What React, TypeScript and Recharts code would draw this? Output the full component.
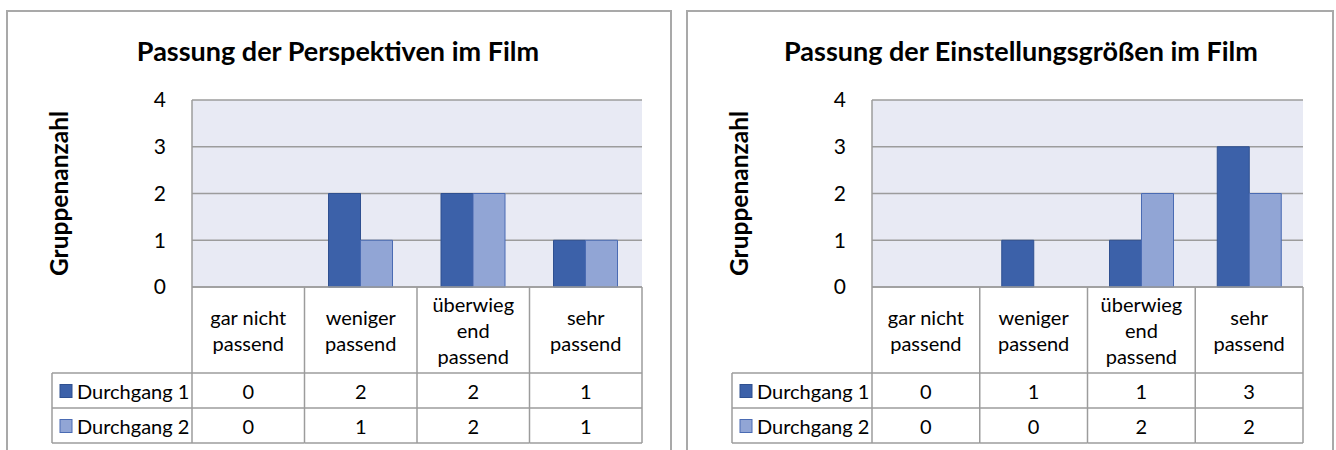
import { Bar, BarChart, CartesianGrid, Customized, XAxis, YAxis } from "recharts";

const categories = ["gar nicht passend", "weniger passend", "überwiegend passend", "sehr passend"];
const categoryLines = [["gar nicht", "passend"], ["weniger", "passend"], ["überwieg", "end", "passend"], ["sehr", "passend"]];
const seriesNames = ["Durchgang 1", "Durchgang 2"];
const perspektivenD1 = [0, 2, 2, 1];
const perspektivenD2 = [0, 1, 2, 1];
const einstellungD1 = [0, 1, 1, 3];
const einstellungD2 = [0, 0, 2, 2];
const yTicks = [0, 1, 2, 3, 4];

const FONT = "Lato, 'Open Sans', sans-serif";
const LINE = "#9c9c9c";
const DARK = "#3c61a9";
const LIGHT = "#91a5d5";

const PLOT_TOP = 88;
const PLOT_BOTTOM = 275;
const ROW1 = 361;
const ROW2 = 396;
const ROW3 = 431;
const LEGEND_LEFT = 44;
const Y_AXIS_W = 184;
const CHART_H = 440;
const TEXT_SIZE = 20;

type Props = {
  title: string;
  titleX: number;
  width: number;
  marginRight: number;
  d1: number[];
  d2: number[];
};

function FilmChart({ title, titleX, width, marginRight, d1, d2 }: Props) {
  const data = categories.map((c, i) => ({ name: c, d1: d1[i], d2: d2[i] }));
  const plotLeft = Y_AXIS_W;
  const plotRight = width - marginRight;
  const band = (plotRight - plotLeft) / categories.length;

  const renderCell = (props: any) => {
    const { x, payload } = props;
    const i = payload.index ?? props.index;
    const l = x - band / 2;
    const r = x + band / 2;
    const lines = categoryLines[i];
    const mid = (PLOT_BOTTOM + ROW1) / 2;
    return (
      <g>
        {i === 0 && <line x1={l} y1={PLOT_BOTTOM} x2={l} y2={ROW3} stroke={LINE} strokeWidth={1.5} />}
        <line x1={r} y1={PLOT_BOTTOM} x2={r} y2={ROW3} stroke={LINE} strokeWidth={1.5} />
        {[ROW1, ROW2, ROW3].map((yy) => (
          <line key={yy} x1={l} y1={yy} x2={r} y2={yy} stroke={LINE} strokeWidth={1.5} />
        ))}
        {lines.map((t, k) => (
          <text key={k} x={x} y={mid + (k - (lines.length - 1) / 2) * 26} textAnchor="middle" dominantBaseline="central" fontSize={TEXT_SIZE} fontFamily={FONT} fill="#000">
            {t}
          </text>
        ))}
        <text x={x} y={(ROW1 + ROW2) / 2} textAnchor="middle" dominantBaseline="central" fontSize={TEXT_SIZE} fontFamily={FONT} fill="#000">
          {d1[i]}
        </text>
        <text x={x} y={(ROW2 + ROW3) / 2} textAnchor="middle" dominantBaseline="central" fontSize={TEXT_SIZE} fontFamily={FONT} fill="#000">
          {d2[i]}
        </text>
      </g>
    );
  };

  const Extras = () => (
    <g>
      <text x={titleX} y={38} textAnchor="middle" dominantBaseline="central" fontSize={27} fontWeight="bold" fontFamily={FONT} fill="#000">
        {title}
      </text>
      <text x={50} y={(PLOT_TOP + PLOT_BOTTOM) / 2} transform={`rotate(-90 50 ${(PLOT_TOP + PLOT_BOTTOM) / 2})`} textAnchor="middle" dominantBaseline="central" fontSize={24.5} fontWeight="bold" fontFamily={FONT} fill="#000">
        Gruppenanzahl
      </text>
      {[ROW1, ROW2, ROW3].map((yy) => (
        <line key={yy} x1={LEGEND_LEFT} y1={yy} x2={plotLeft} y2={yy} stroke={LINE} strokeWidth={1.5} />
      ))}
      <line x1={LEGEND_LEFT} y1={ROW1} x2={LEGEND_LEFT} y2={ROW3} stroke={LINE} strokeWidth={1.5} />
      {seriesNames.map((s, k) => {
        const cy = k === 0 ? (ROW1 + ROW2) / 2 : (ROW2 + ROW3) / 2;
        return (
          <g key={s}>
            <rect x={52} y={cy - 6} width={12} height={13} fill={k === 0 ? DARK : LIGHT} stroke={k === 0 ? "#2f5090" : "#4a6bb3"} strokeWidth={1} />
            <text x={69} y={cy} dominantBaseline="central" fontSize={TEXT_SIZE} fontFamily={FONT} fill="#000">
              {s}
            </text>
          </g>
        );
      })}
    </g>
  );

  return (
    <BarChart width={width} height={CHART_H} data={data} margin={{ top: PLOT_TOP, right: marginRight, bottom: 0, left: 0 }} barGap={0} barSize={32}>
      <CartesianGrid vertical={false} stroke={LINE} strokeWidth={1.5} fill="#e8eaf4" fillOpacity={1} />
      <XAxis dataKey="name" height={CHART_H - PLOT_BOTTOM} interval={0} tickLine={false} tickSize={0} tickMargin={0} axisLine={{ stroke: LINE, strokeWidth: 1.5 }} tick={renderCell} />
      <YAxis width={Y_AXIS_W} domain={[0, 4]} ticks={yTicks} tickLine={false} tickSize={0} tickMargin={26} axisLine={{ stroke: LINE, strokeWidth: 1.5 }} tick={{ fontSize: 21, fontFamily: FONT, fill: "#000" }} />
      <Bar dataKey="d1" name={seriesNames[0]} fill={DARK} stroke="#2f5090" strokeWidth={1} isAnimationActive={false} />
      <Bar dataKey="d2" name={seriesNames[1]} fill={LIGHT} stroke="#4a6bb3" strokeWidth={1} isAnimationActive={false} />
      <Customized component={<Extras />} />
    </BarChart>
  );
}

const boxStyle = {
  position: "absolute" as const,
  top: 10,
  height: 450,
  border: "2px solid #a9a9a9",
  background: "#fff",
  boxSizing: "border-box" as const,
  overflow: "hidden",
};

export default function App() {
  return (
    <div style={{ position: "absolute", left: 0, top: 0, width: 1336, height: 450, overflow: "hidden" }}>
      <div style={{ ...boxStyle, left: 6, width: 666 }}>
        <FilmChart title="Passung der Perspektiven im Film" titleX={330} width={662} marginRight={28} d1={perspektivenD1} d2={perspektivenD2} />
      </div>
      <div style={{ ...boxStyle, left: 686, width: 648 }}>
        <FilmChart title="Passung der Einstellungsgrößen im Film" titleX={333} width={644} marginRight={29} d1={einstellungD1} d2={einstellungD2} />
      </div>
    </div>
  );
}
